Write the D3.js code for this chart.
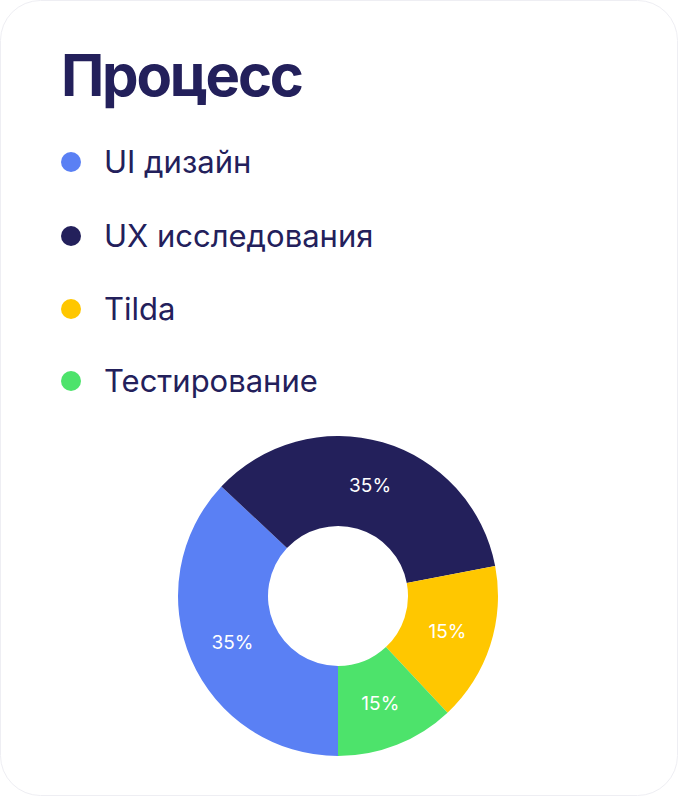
<!DOCTYPE html><html><head><meta charset="utf-8"><script src="https://cdn.jsdelivr.net/npm/d3@7"></script>
<style>body{margin:0;background:#fff}</style></head><body><svg id="c" width="678" height="796"></svg>
<script>
const categories=["UI дизайн","UX исследования","Tilda","Тестирование"];
const values=[37,35,16,12];
const labels=["35%","35%","15%","15%"];
const colors=["#5a80f4","#23205b","#ffc700","#4de36b"];
const svg=d3.select("#c");
svg.append("rect").attr("x",0.5).attr("y",0.5).attr("width",677).attr("height",795).attr("rx",40).attr("fill","#fff").attr("stroke","#eeeef3");
svg.append("text").attr("x",61).attr("y",96).text("Процесс").attr("font-family","Inter").attr("font-weight",700).attr("font-size",58).attr("fill","#23205b").attr("textLength",243);
const lg=svg.selectAll("g.l").data(categories).enter().append("g").attr("transform",(d,i)=>`translate(0,${[162,236,309,381][i]})`);
lg.append("circle").attr("cx",71).attr("r",10).attr("fill",(d,i)=>colors[i]);
lg.append("text").attr("x",104).attr("dy","0.36em").text(d=>d).attr("font-family","Inter").attr("font-size",31).attr("fill","#23205b");
const pie=d3.pie().sort(null).startAngle(Math.PI).endAngle(3*Math.PI)(values);
const arc=d3.arc().innerRadius(70).outerRadius(160);
const lab=d3.arc().innerRadius(115).outerRadius(115);
const g=svg.append("g").attr("transform","translate(338,596)");
g.selectAll("path").data(pie).enter().append("path").attr("d",arc).attr("fill",(d,i)=>colors[i]);
g.selectAll("text").data(pie).enter().append("text").attr("transform",d=>`translate(${lab.centroid(d)})`).attr("text-anchor","middle").attr("dy","0.36em").text((d,i)=>labels[i]).attr("font-family","Inter").attr("font-size",19).attr("fill","#fff");
</script></body></html>
